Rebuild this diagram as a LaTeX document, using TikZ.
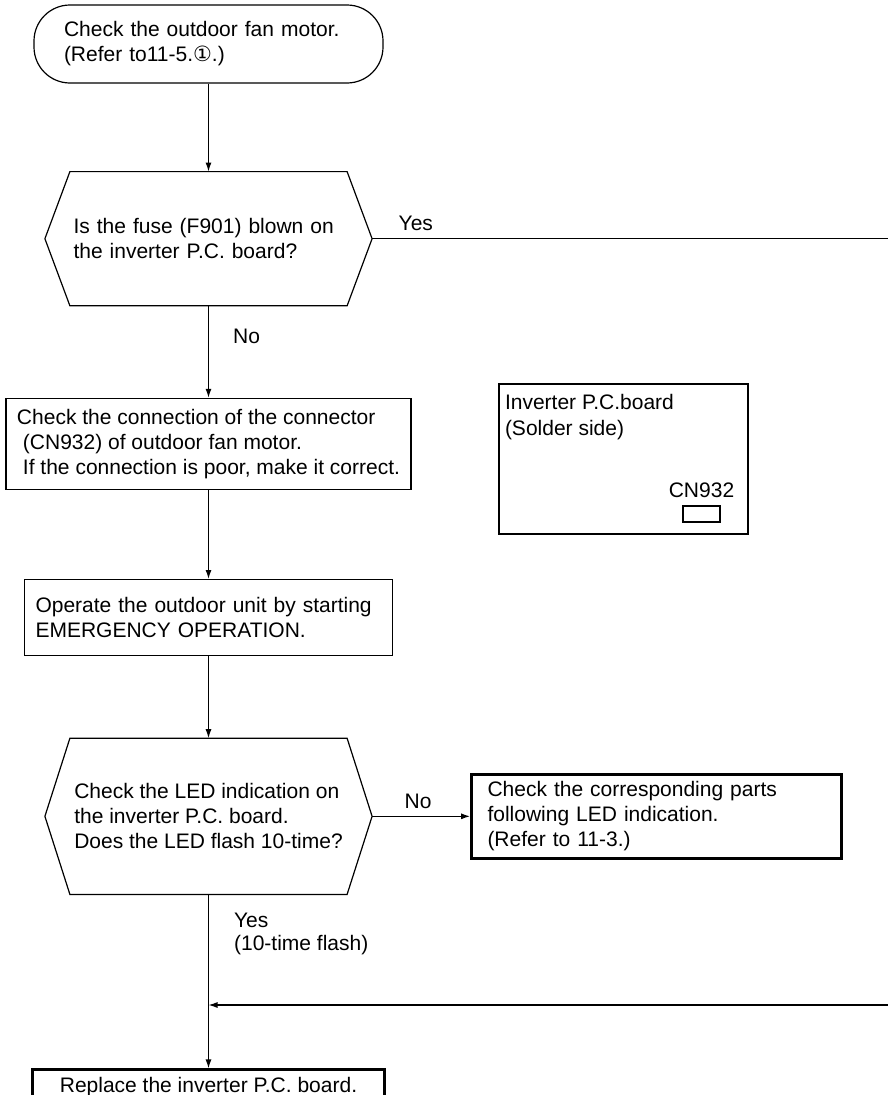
\documentclass[tikz,border=0pt]{standalone}
\usepackage{fontspec}
\setmainfont{Liberation Sans}
\newfontfamily\symfont{DejaVu Sans}
\usetikzlibrary{arrows.meta,positioning}

\begin{document}
\begin{tikzpicture}[
        x=1pt, y=-1pt,
        font=\fontsize{21}{25}\selectfont,
        line width=1.2pt,
        box/.style={rectangle, draw=black, align=left, inner ysep=0pt},
        thickbox/.style={box, line width=2.8pt},
        hexbox/.style={rectangle, minimum width=326pt, minimum height=133pt, align=left, inner ysep=0pt},
        lbl/.style={inner sep=0pt},
        flow/.style={-{Latex[length=9pt,width=6pt]}}
    ]

    \useasboundingbox (0,0) rectangle (888,1095);

    % Steps
    \node[box, rounded corners=36pt, minimum width=349pt, minimum height=78pt, text width=289pt, inner xsep=30pt] (start) at (208.5,44) {Check the outdoor fan motor.\\(Refer to11-5.{\symfont ①}.)};
    \node[hexbox, text width=270pt, inner xsep=28pt, below=88pt of start] (fuse) {Is the fuse (F901) blown on\\the inverter P.C. board?};
    \node[box, minimum width=405pt, minimum height=91pt, inner xsep=4pt, below=92pt of fuse] (conn) {Check the connection of the connector\\\hspace*{6pt}(CN932) of outdoor fan motor.\\\hspace*{6pt}If the connection is poor, make it correct.};
    \node[box, minimum width=368pt, minimum height=76pt, text width=346pt, inner xsep=11pt, below=89pt of conn] (operate) {Operate the outdoor unit by starting\\EMERGENCY OPERATION.};
    \node[hexbox, minimum height=155pt, inner xsep=4pt, below=82pt of operate] (led) {Check the LED indication on\\the inverter P.C. board.\\Does the LED flash 10-time?};
    \node[thickbox, minimum width=370pt, minimum height=84pt, text width=338pt, inner xsep=16pt, right=98pt of led] (parts) {Check the corresponding parts\\following LED indication.\\(Refer to 11-3.)};
    \node[thickbox, minimum width=352pt, minimum height=34pt, align=center, below=174pt of led] (replace) {Replace the inverter P.C. board.};

    % Board sketch
    \node[box, minimum width=249pt, minimum height=150pt] (pcb) at (623.5,459) {};
    \node[lbl, anchor=north west, align=left, font=\fontsize{21}{26}\selectfont] (pcbtext) at ([xshift=6pt, yshift=-10.5pt]pcb.north west) {Inverter P.C.board\\(Solder side)};
    \node[box, minimum width=37pt, minimum height=16pt, inner sep=0pt, anchor=south east] (cnslot) at ([xshift=-28pt, yshift=12pt]pcb.south east) {};
    \node[lbl, above=7pt of cnslot] (cnlbl) {CN932};

    % Hexagon outlines
    \draw (fuse.west) -- ([xshift=25pt]fuse.north west) -- ([xshift=-25pt]fuse.north east) -- (fuse.east) -- ([xshift=-25pt]fuse.south east) -- ([xshift=25pt]fuse.south west) -- cycle;
    \draw (led.west) -- ([xshift=25pt]led.north west) -- ([xshift=-25pt]led.north east) -- (led.east) -- ([xshift=-25pt]led.south east) -- ([xshift=25pt]led.south west) -- cycle;

    % Free ends at the right border
    \coordinate (rightedge) at (888,0);
    \coordinate (yesend) at (fuse.east -| rightedge);
    \coordinate (retstart) at (888,1005);
    \coordinate (join) at (led.south |- retstart);

    % Connectors
    \draw[flow] (start.south) -- (fuse.north);
    \draw (fuse.east) -- node[lbl, pos=0, anchor=south west, xshift=26pt, yshift=7pt] {Yes} (yesend);
    \draw[flow] (fuse.south) -- node[lbl, pos=0.33, anchor=west, xshift=24pt] {No} (conn.north);
    \draw[flow] (conn.south) -- (operate.north);
    \draw[flow] (operate.south) -- (led.north);
    \draw[flow] (led.east) -- node[lbl, pos=0, anchor=south west, xshift=32pt, yshift=7.5pt] {No} (parts.west);
    \draw[flow] (led.south) -- node[lbl, pos=0, anchor=north west, xshift=25pt, yshift=-18pt, align=left, font=\fontsize{21}{23}\selectfont] {Yes\\(10-time flash)} (replace.north);
    \draw[flow] (retstart) -- (join);

\end{tikzpicture}
\end{document}
